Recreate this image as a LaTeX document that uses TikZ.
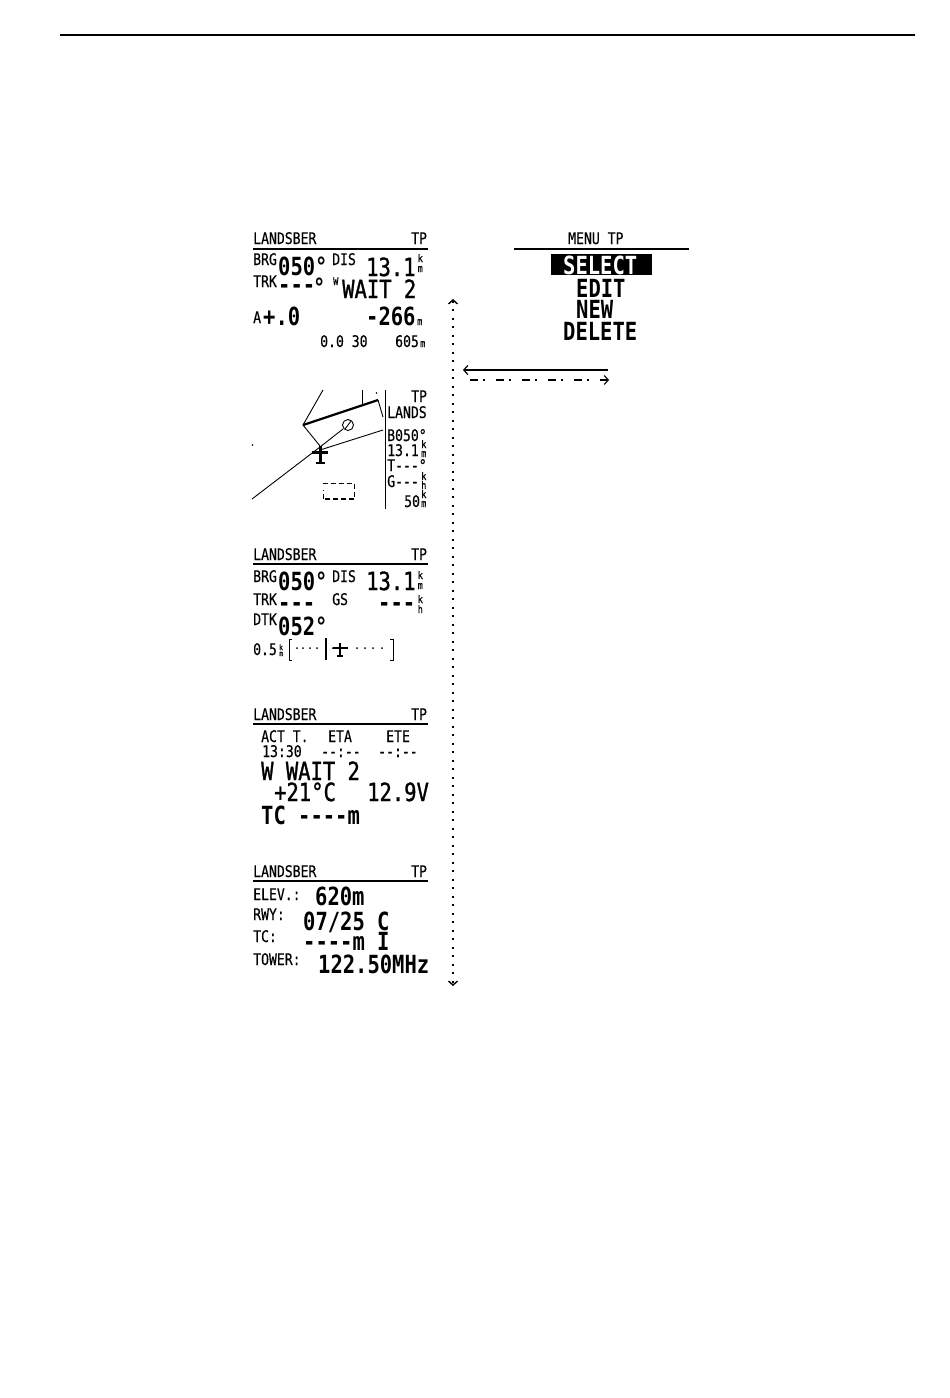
\documentclass[tikz,border=0pt]{standalone}
\usepackage{fontspec}
\usetikzlibrary{arrows.meta}
\newfontfamily\lcdfont[FakeStretch=0.82,FakeBold=0.4,BoldFeatures={FakeBold=0}]{DejaVu Sans Mono}
\newfontfamily\lcdmid[FakeStretch=0.82,FakeBold=1.2]{DejaVu Sans Mono}
\newcommand{\lcdsize}[1]{\lcdfont\fontsize{#1}{#1}\selectfont}

\begin{document}
\begin{tikzpicture}[x=1pt,y=-1pt,>={Straight Barb[length=4pt,width=9pt]},
  lcd/.style={inner sep=0pt,anchor=base west},
  lcdunit/.style={lcd,align=left,font=\lcdfont\fontsize{10.5}{#1}\selectfont},
  lcdunit/.default=9,
  lcdtiny/.style={lcd,font=\lcdsize{10.5}},
  lcdsmall/.style={lcd,font=\lcdsize{16}},
  lcdbig/.style={lcd,font=\lcdmid\fontsize{25}{25}\selectfont},
  lcdbold/.style={lcd,font=\lcdsize{25}\bfseries},
  rule/.style={line width=1.6pt},
  track/.style={line width=0.9pt}]

\useasboundingbox (0,0) rectangle (950,1398);

\draw [line width=2.6pt] (60,35) -- (915,35);

\foreach \y/\n in {244/a,560/c,720/d,877/e}{
  \node[lcdsmall] (land\n) at (253,\y) {LANDSBER};
  \node[lcdsmall] (tp\n) at (411,\y) {TP};
}
\foreach \y in {249,564,724,881}{
  \draw [rule] (253,\y) -- (428,\y);
}

% first page
\node[lcdsmall] (brga) at (253,265) {BRG};
\node[lcdbold] (dira) at (278,275) {050°};
\node[lcdsmall] (disa) at (332,265) {DIS};
\node[lcdbig] (dista) at (366,276) {13.1};
\node[lcdunit=10] (kma) at (417.5,272) {k\\m};
\node[lcdsmall] (trka) at (253,287) {TRK};
\node[lcdbold] (trkva) at (278,293) {---};
\node[lcdbold] (dega) at (313,296) {°};
\node[lcdtiny] (wa) at (333,285) {W};
\node[lcdbig] (waita) at (342,298) {WAIT 2};
\node[lcdsmall] (aa) at (253,323) {A};
\node[lcdbold] (alta) at (263,325) {+.0};
\node[lcdbold] (agla) at (366,325) {-266};
\node[lcdtiny] (m2a) at (417,325) {m};
\node[lcdsmall] (winda) at (320,347) {0.0 30};
\node[lcdsmall] (elea) at (395,347) {605};
\node[lcdtiny] (m3a) at (420,347) {m};

% menu
\node[lcdsmall] (menu) at (568,244) {MENU TP};
\draw [rule] (514,249) -- (689,249);
\fill (551,254) rectangle (652,275);
\node[lcdbold,text=white] (sel) at (563,274) {SELECT};
\node[lcdbold] (edit) at (576,297) {EDIT};
\node[lcdbold] (new) at (576,318) {NEW};
\node[lcdbold] (del) at (563,340) {DELETE};

\coordinate (up) at (453,299);
\coordinate (down) at (453,986);
\coordinate (backr) at (608,370);
\coordinate (backl) at (463,370);
\coordinate (nextl) at (463,380);
\coordinate (nextr) at (609,380);
\draw [line width=1.4pt,dash pattern=on 2pt off 6.5pt,<->] (up) -- (down);
\draw [line width=1.2pt,->] (backr) -- (backl);
\draw [line width=1.1pt,dash pattern=on 8pt off 5pt on 2pt off 11pt,dash phase=19pt,->] (nextl) -- (nextr);

% map
\draw [track] (385.5,390) -- (385.5,509);
\node[lcdsmall] (tpb) at (411,402) {TP};
\node[lcdsmall] (landb) at (387,418) {LANDS};
\node[lcdsmall] (bb) at (387,441) {B050°};
\node[lcdsmall] (db) at (387,456) {13.1};
\node[lcdunit] (kmb) at (421,457) {k\\m};
\node[lcdsmall] (tb) at (387,471) {T---°};
\node[lcdsmall] (gb) at (387,487) {G---};
\node[lcdunit] (khb) at (421,489) {k\\h};
\node[lcdsmall] (pctb) at (404,507) {50};
\node[lcdunit] (km2b) at (421,507) {k\\m};

\draw [track] (323,390) -- (303,425) -- (320,446);
\draw [line width=2.2pt] (303,425) -- (378,400);
\draw [track] (378,400) -- (383,417);
\draw [track] (362,390) -- (362,404);
\draw [track] (252,499) -- (320,447) -- (343,429);
\draw [track] (320,450) -- (383,430);
\draw [track] (348,425) circle (5.5);
\draw [track] (345,429) -- (351,421);
\fill (252.5,445) circle (0.8);
\fill (376.5,393) circle (0.8);
\draw [line width=3pt] (320,446) -- (320,464);
\draw [line width=3.6pt] (312,452.5) -- (328,452.5);
\draw [line width=2pt] (315.5,463) -- (324.5,463);
\draw [track,dash pattern=on 5pt off 3pt] (323,483) -- (354,483) -- (354,499);
\draw [line width=1.5pt,dash pattern=on 5pt off 3pt] (354,499) -- (323,499);
\draw [track,dash pattern=on 5pt off 3pt] (323,499) -- (323,490);

% third page
\node[lcdsmall] (brgc) at (253,582) {BRG};
\node[lcdbold] (dirc) at (278,590) {050°};
\node[lcdsmall] (disc) at (332,582) {DIS};
\node[lcdbig] (distc) at (366,590) {13.1};
\node[lcdunit=10] (kmc) at (417.5,589) {k\\m};
\node[lcdsmall] (trkc) at (253,605) {TRK};
\node[lcdbold] (trkvc) at (278,611) {---};
\node[lcdsmall] (gsc) at (332,605) {GS};
\node[lcdbold] (gsvc) at (378,611) {---};
\node[lcdunit=10] (khc) at (417.5,613) {k\\h};
\node[lcdsmall] (dtkc) at (253,625) {DTK};
\node[lcdbold] (dtkvc) at (278,635) {052°};
\node[lcdsmall] (xtec) at (253,655) {0.5};
\node[lcdunit=6,font=\lcdfont\fontsize{7.5}{6}\selectfont] (kmxc) at (279,656) {k\\m};

\draw [track] (292,639) -- (289.5,639) -- (289.5,660) -- (292,660);
\draw [track] (390,639) -- (393,639) -- (393,660) -- (390,660);
\draw [line width=1.8pt] (326,638) -- (326,660);
\foreach \x in {297,303,310,317,333,357,365,373,382}{
  \fill (\x,648) circle (1);
}
\draw [line width=2.2pt] (333,648) -- (348,648);
\draw [line width=2.2pt] (340,643) -- (340,657);
\draw [line width=1.6pt] (337,656) -- (343,656);

% fourth page
\node[lcdsmall] (actd) at (261,742) {ACT T.};
\node[lcdsmall] (etad) at (328,742) {ETA};
\node[lcdsmall] (eted) at (386,742) {ETE};
\node[lcdsmall] (timed) at (262,757) {13:30};
\node[lcdsmall] (etavd) at (321,757) {--:--};
\node[lcdsmall] (etevd) at (378,757) {--:--};
\node[lcdbig] (waitd) at (261,780) {W WAIT 2};
\node[lcdbig] (tempd) at (274,801) {+21°C};
\node[lcdbig] (voltd) at (367,801) {12.9V};
\node[lcdbold] (tcd) at (261,824) {TC};
\node[lcdbold] (tcvd) at (298,824) {----m};

% fifth page
\node[lcdsmall] (elee) at (253,900) {ELEV.:};
\node[lcdbold] (elvve) at (315,905) {620m};
\node[lcdsmall] (rwye) at (253,920) {RWY:};
\node[lcdbold] (rwvve) at (303,930) {07/25 C};
\node[lcdsmall] (tce) at (253,942) {TC:};
\node[lcdbold] (tcve) at (303,950) {----m};
\node[lcdbold] (ile) at (377,950) {I};
\node[lcdsmall] (towe) at (253,965) {TOWER:};
\node[lcdbold] (freqe) at (318,973) {122.50MHz};

\end{tikzpicture}
\end{document}
